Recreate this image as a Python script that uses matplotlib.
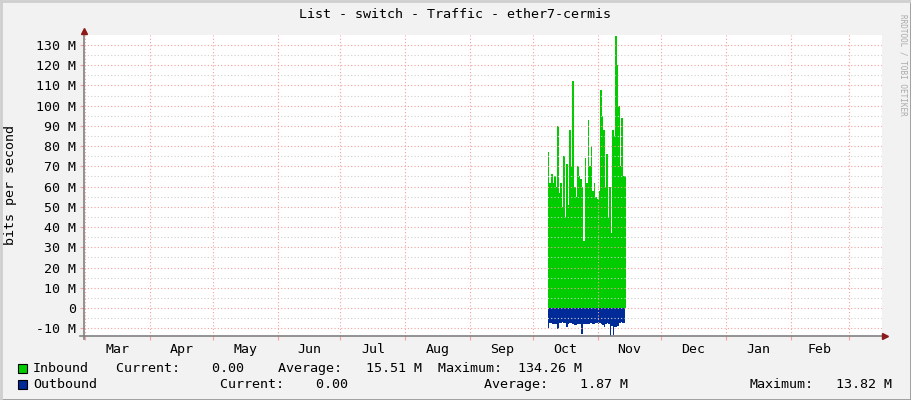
import numpy as np
import matplotlib
matplotlib.use("Agg")
import matplotlib.pyplot as plt
import matplotlib.dates as mdates
from matplotlib.ticker import FuncFormatter, MultipleLocator
from datetime import datetime

# ---------------- data ----------------
title = "List - switch - Traffic - ether7-cermis"
ylabel = "bits per second"
month_labels = ["Mar", "Apr", "May", "Jun", "Jul", "Aug", "Sep", "Oct", "Nov", "Dec", "Jan", "Feb"]

x_start = datetime(2025, 2, 28, 12)
x_end = datetime(2026, 3, 16, 12)

data_start = datetime(2025, 10, 8, 2)
inbound_end = datetime(2025, 11, 14, 10)
outbound_end = datetime(2025, 11, 13, 22)

# Mbit/s, regular samples between data_start and *_end
inbound_mbps = [77, 62, 66, 62, 65, 60, 90, 57, 62, 50, 75, 45, 71, 51, 88, 70,
                112, 60, 55, 70, 65, 64, 60, 33, 74, 62, 93, 70, 80, 58, 62, 55,
                54, 58, 108, 95, 88, 60, 76, 45, 60, 37, 88, 85, 134.26, 120, 100,
                70, 94, 65, 65]
outbound_mbps = [-9.7, -7.4, -7.6, -7.8, -7.7, -7.9, -10.5, -7.3, -7.2, -7.0, -7.3,
                 -7.5, -9.3, -7.8, -7.6, -7.4, -7.8, -8.3, -8.5, -8.0, -7.9, -7.8,
                 -12.7, -7.8, -8.0, -7.7, -7.9, -7.7, -7.5, -7.8, -8.0, -7.6, -7.3,
                 -7.9, -7.6, -7.9, -8.2, -9.3, -7.8, -7.6, -7.9, -13.82, -9.0, -13.3,
                 -9.3, -9.3, -9.0, -7.2, -7.0, -7.3, -7.4]

legend_rows = [
    ("Inbound", "#00CC00", [("Current:    0.00", 116),
                            ("Average:   15.51 M  Maximum:  134.26 M", 278)]),
    ("Outbound", "#002A97", [("Current:    0.00", 219.5),
                             ("Average:    1.87 M", 484.5),
                             ("Maximum:", 749.5), ("13.82 M", 836)]),
]

# ---------------- figure ----------------
W, H = 911, 400
FONT = "DejaVu Sans Mono"
FS = 9.6
BG = "#F2F2F2"
fig = plt.figure(figsize=(W / 100, H / 100), dpi=100, facecolor=BG)

left_px, right_px, top_px, bot_px = 84, 881.7, 35, 336
ax = fig.add_axes([left_px / W, 1 - bot_px / H, (right_px - left_px) / W, (bot_px - top_px) / H])
ax.set_facecolor("white")


def series_times(end, n):
    t0 = mdates.date2num(data_start)
    t1 = mdates.date2num(end)
    return t0 + np.arange(n + 1) * (t1 - t0) / n


tin = series_times(inbound_end, len(inbound_mbps))
vin = np.array(inbound_mbps + [inbound_mbps[-1]]) * 1e6
ax.fill_between(tin, 0, vin, step="post", color="#00CC00", lw=0, zorder=2)

tout = series_times(outbound_end, len(outbound_mbps))
vout = np.array(outbound_mbps + [outbound_mbps[-1]]) * 1e6
ax.fill_between(tout, 0, vout, step="post", color="#002A97", lw=0, zorder=2)

ax.set_xlim(mdates.date2num(x_start), mdates.date2num(x_end))
ax.set_ylim(-13.84e6, 134.94e6)

# grid (drawn above data as in rrdtool)
grid_major = "#F4A0A0"
grid_minor = "#CFCFCF"
for v in np.arange(-10, 131, 10):
    ax.axhline(v * 1e6, color=grid_major, lw=0.8, ls=(0, (1, 2)), zorder=3)
for v in np.arange(-5, 131, 10):
    ax.axhline(v * 1e6, color=grid_minor, lw=0.8, ls=(0, (1, 2)), zorder=3)

month_starts = []
d = datetime(2025, 3, 1)
while d <= x_end:
    month_starts.append(d)
    d = datetime(d.year + (d.month // 12), d.month % 12 + 1, 1)
for ms in month_starts:
    ax.axvline(mdates.date2num(ms), color=grid_major, lw=0.8, ls=(0, (1, 2)), zorder=3)

# ticks
ax.yaxis.set_major_locator(MultipleLocator(10e6))


def yfmt(v, pos):
    m = int(round(v / 1e6))
    return "0" if m == 0 else f"{m} M"


ax.yaxis.set_major_formatter(FuncFormatter(yfmt))
ax.tick_params(axis="y", length=3, width=0.8, color=grid_major, pad=3, labelsize=9.5)

ax.set_xticks([mdates.date2num(m) for m in month_starts])
ax.set_xticklabels([])
ax.tick_params(axis="x", which="major", length=3, width=0.8, color=grid_major)
mids = []
for i in range(len(month_labels)):
    a = mdates.date2num(month_starts[i])
    b = mdates.date2num(month_starts[i + 1])
    mids.append((a + b) / 2)
ax.set_xticks(mids, minor=True)
ax.set_xticklabels(month_labels, minor=True)
ax.tick_params(axis="x", which="minor", length=0, pad=5, labelsize=9.5)
for lab in ax.get_xticklabels(minor=True) + ax.get_yticklabels():
    lab.set_fontfamily(FONT)

for s in ["top", "right", "left", "bottom"]:
    ax.spines[s].set_visible(False)

# axis lines with arrows
axis_col = "#808080"
ax.plot([-0.005, 1.003], [0, 0], transform=ax.transAxes, color=axis_col, lw=1.2, clip_on=False, zorder=5)
ax.plot([0, 0], [-0.01, 1.012], transform=ax.transAxes, color=axis_col, lw=1.2, clip_on=False, zorder=5)
ax.plot([1.004], [0], transform=ax.transAxes, marker=">", ms=4, color="#8B1A1A", clip_on=False, zorder=6)
ax.plot([0], [1.014], transform=ax.transAxes, marker="^", ms=4, color="#8B1A1A", clip_on=False, zorder=6)

# title & labels
fig.text(455 / W, 1 - 15 / H, title, ha="center", va="center", fontsize=FS, family=FONT, color="#000000")
fig.text(11 / W, 1 - 185 / H, ylabel, ha="center", va="center", rotation=90, fontsize=FS, family=FONT)
fig.text(903 / W, 1 - 65 / H, "RRDTOOL / TOBI OETIKER", ha="center", va="center", rotation=270,
         fontsize=5.5, family=FONT, color="#AAAAAA")

# legend
for r, (name, col, items) in enumerate(legend_rows):
    yc = 368.5 + 15.8 * r
    fig.patches.append(plt.Rectangle((18 / W, 1 - (yc + 4.5) / H), 9 / W, 9 / H, transform=fig.transFigure,
                                     facecolor=col, edgecolor="black", lw=0.8))
    fig.text(33 / W, 1 - yc / H, name, ha="left", va="center", fontsize=FS, family=FONT)
    for txt, xp in items:
        fig.text(xp / W, 1 - yc / H, txt, ha="left", va="center", fontsize=FS, family=FONT)

# 3D frame edges
fig.add_artist(plt.Line2D([0, 1], [0.5 / H, 0.5 / H], transform=fig.transFigure, color="#999999", lw=2))
fig.add_artist(plt.Line2D([1 - 0.5 / W, 1 - 0.5 / W], [0, 1], transform=fig.transFigure, color="#999999", lw=2))
fig.add_artist(plt.Line2D([0, 1], [1 - 0.5 / H, 1 - 0.5 / H], transform=fig.transFigure, color="#CFCFCF", lw=2))
fig.add_artist(plt.Line2D([0.5 / W, 0.5 / W], [0, 1], transform=fig.transFigure, color="#CFCFCF", lw=2))

fig.savefig("out.png", dpi=100, facecolor=BG)
